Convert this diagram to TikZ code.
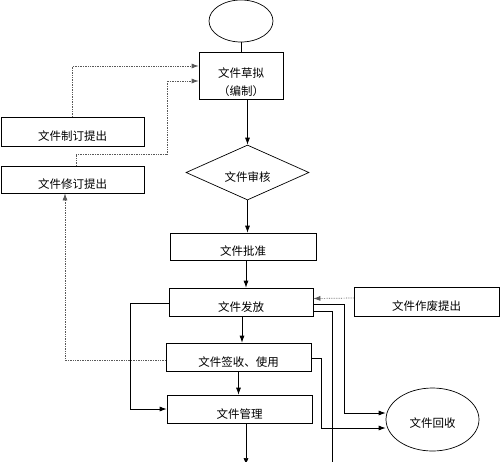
\documentclass[tikz,border=0pt]{standalone}
\usepackage{fontspec}
\newfontfamily\cjk{Noto Sans CJK SC}
\usetikzlibrary{calc,arrows.meta,shapes.geometric}

\begin{document}
\begin{tikzpicture}[>={Latex[length=7pt,width=5pt]}, x=1pt, y=-1pt, line width=0.7pt,
	every node/.style={font=\cjk\fontsize{11.5}{17.5}\selectfont},
	box/.style={draw, rectangle, inner sep=0pt, text height=20pt, text depth=1.6pt},
	dots/.style={densely dotted, black!65}]
	\useasboundingbox (0,0) rectangle (500,461);

	% main flow of the document
	\node[draw, ellipse, minimum width=64pt, minimum height=42pt] (start) at (241,21) {};
	\node[draw, rectangle, minimum width=84pt, minimum height=47pt,
		label={[align=center, yshift=-6.5pt]center:{文件草拟\\（编制）}}] (draft) at (241,75.5) {};
	\node[draw, diamond, inner sep=0pt, minimum width=123pt, minimum height=55pt,
		label={[yshift=-5pt]center:文件审核}] (check) at (247.5,172.5) {};
	\node[box, minimum width=146pt, minimum height=27pt] (approve) at (243,246.5) {文件批准};
	\node[box, minimum width=144pt, minimum height=28pt] (issue) at (241,302) {文件发放};
	\node[box, minimum width=145pt, minimum height=28pt] (use) at (238.5,357) {文件签收、使用};
	\node[box, minimum width=145pt, minimum height=28pt] (manage) at (239.5,409) {文件管理};

	% side boxes
	\node[box, minimum width=143pt, minimum height=29pt] (propose) at (72.5,131.5) {文件制订提出};
	\node[box, minimum width=143pt, minimum height=27pt] (revise) at (72.5,179.5) {文件修订提出};
	\node[box, minimum width=145pt, minimum height=29pt] (abolish) at (426.5,301.5) {文件作废提出};
	\node[draw, ellipse, minimum width=93pt, minimum height=63pt,
		label={[yshift=-3.5pt]center:文件回收}] (recycle) at (432.5,419.5) {};

	% free ends below the picture
	\coordinate (next) at (246,465);
	\coordinate (away) at (332,462);

	% draw the main line
	\draw (start) -- (draft);
	\draw[->] (draft.south -| check.north) -- (check.north);
	\draw[->] (check.south) -- (check.south |- approve.north);
	\draw[->] ($(approve.south)+(3,0)$) -- ($(approve.south |- issue.north)+(3,0)$);
	\draw[->] ($(issue.south)+(1,0)$) -- ($(issue.south |- use.north)+(1,0)$);
	\draw[->] (use.south) -- (use.south |- manage.north);
	\draw[->] ($(manage.south)+(6.5,0)$) -- (next);

	% dotted requests
	\draw[dots,->] (propose.north) |- ($(draft.west)+(0,-9.5)$);
	\draw[dots,->] ($(revise.north)+(3.5,0)$) |- (167,154) |- ($(draft.west)+(0,5.5)$);
	\draw[dots,->] ($(use.west)+(0,3)$) -| ($(revise.south)+(-7.5,0)$);
	\draw[dots,->] ($(abolish.west)+(0,-3.5)$) -- ($(issue.east)+(0,-3.5)$);

	% lines out of issue and use
	\draw[->] ($(issue.west)+(0,1)$) -- ++(-38,0) |- (manage.west);
	\draw[->] ($(issue.east)+(0,2)$) -- ++(31,0) |- ($(recycle.west)+(0,-6.5)$);
	\draw ($(issue.east)+(0,9)$) -| (away);
	\draw[->] ($(use.east)+(0,1)$) -- ++(10,0) |- ($(recycle.west)+(0,8.5)$);
\end{tikzpicture}
\end{document}
